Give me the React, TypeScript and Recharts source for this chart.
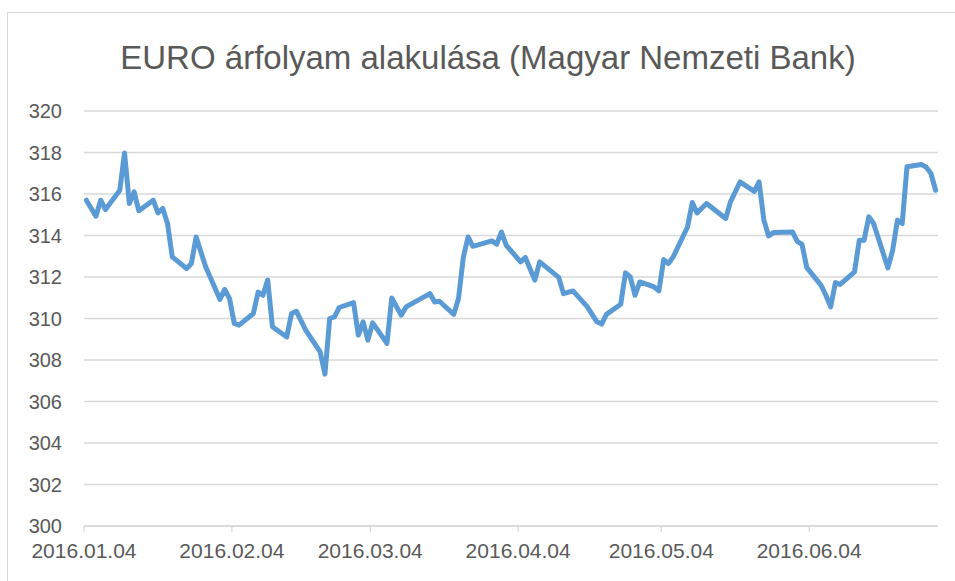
import React from "react";
import { LineChart, Line, XAxis, YAxis, CartesianGrid } from "recharts";

const TITLE = "EURO árfolyam alakulása (Magyar Nemzeti Bank)";

const dates: string[] = [
  "2016.01.04", "2016.01.06", "2016.01.07", "2016.01.08", "2016.01.11", "2016.01.12", "2016.01.13", "2016.01.14", "2016.01.15",
  "2016.01.18", "2016.01.19", "2016.01.20", "2016.01.21", "2016.01.22", "2016.01.25", "2016.01.26", "2016.01.27", "2016.01.29",
  "2016.02.01", "2016.02.02", "2016.02.03", "2016.02.04", "2016.02.05", "2016.02.08", "2016.02.09", "2016.02.10", "2016.02.11",
  "2016.02.12", "2016.02.15", "2016.02.16", "2016.02.17", "2016.02.19", "2016.02.22", "2016.02.23", "2016.02.24", "2016.02.25",
  "2016.02.26", "2016.02.29", "2016.03.01", "2016.03.02", "2016.03.03", "2016.03.04", "2016.03.07", "2016.03.08", "2016.03.10",
  "2016.03.11", "2016.03.16", "2016.03.17", "2016.03.18", "2016.03.21", "2016.03.22", "2016.03.23", "2016.03.24", "2016.03.25",
  "2016.03.29", "2016.03.30", "2016.03.31", "2016.04.01", "2016.04.04", "2016.04.05", "2016.04.07", "2016.04.08", "2016.04.12",
  "2016.04.13", "2016.04.15", "2016.04.18", "2016.04.20", "2016.04.21", "2016.04.22", "2016.04.25", "2016.04.26", "2016.04.27",
  "2016.04.28", "2016.04.29", "2016.05.02", "2016.05.03", "2016.05.04", "2016.05.05", "2016.05.06", "2016.05.09", "2016.05.10",
  "2016.05.11", "2016.05.13", "2016.05.17", "2016.05.18", "2016.05.20", "2016.05.23", "2016.05.24", "2016.05.25", "2016.05.26",
  "2016.05.27", "2016.05.31", "2016.06.01", "2016.06.02", "2016.06.03", "2016.06.06", "2016.06.07", "2016.06.08", "2016.06.09",
  "2016.06.10", "2016.06.13", "2016.06.14", "2016.06.15", "2016.06.16", "2016.06.17", "2016.06.20", "2016.06.21", "2016.06.22",
  "2016.06.23", "2016.06.24", "2016.06.27", "2016.06.28", "2016.06.29", "2016.06.30",
];

const rates: number[] = [
  315.70, 314.93, 315.70, 315.25, 316.18, 317.98, 315.54, 316.10, 315.19,
  315.70, 315.09, 315.30, 314.58, 312.97, 312.41, 312.65, 313.93, 312.49,
  310.92, 311.40, 310.96, 309.76, 309.68, 310.24, 311.28, 311.12, 311.85,
  309.60, 309.11, 310.24, 310.35, 309.43, 308.39, 307.32, 310.00, 310.08,
  310.53, 310.77, 309.20, 309.84, 308.96, 309.79, 308.80, 310.99, 310.16,
  310.56, 311.20, 310.80, 310.83, 310.20, 310.96, 312.94, 313.93, 313.48,
  313.74, 313.58, 314.17, 313.53, 312.73, 312.94, 311.85, 312.73, 311.98,
  311.20, 311.33, 310.56, 309.84, 309.73, 310.20, 310.69, 312.20, 312.00,
  311.12, 311.76, 311.52, 311.33, 312.84, 312.65, 312.97, 314.41, 315.59,
  315.09, 315.54, 314.82, 315.62, 316.58, 316.13, 316.58, 314.74, 313.98,
  314.14, 314.17, 313.72, 313.57, 312.45, 311.60, 311.12, 310.56, 311.73,
  311.64, 312.25, 313.77, 313.77, 314.90, 314.58, 312.44, 313.29, 314.74,
  314.58, 317.31, 317.42, 317.30, 317.00, 316.18,
];

const xTickLabels: string[] = ["2016.01.04", "2016.02.04", "2016.03.04", "2016.04.04", "2016.05.04", "2016.06.04"];
const yTicks: number[] = [300, 302, 304, 306, 308, 310, 312, 314, 316, 318, 320];
const START = "2016.01.04";
const END = "2016.06.30";

const toUtc = (s: string) => {
  const [y, m, d] = s.split(".").map(Number);
  return Date.UTC(y, m - 1, d);
};
const dayIndex = (s: string) => Math.round((toUtc(s) - toUtc(START)) / 86400000);

const data = dates.map((d, i) => ({ x: dayIndex(d) + 0.5, v: rates[i] }));
const xTicks = xTickLabels.map(dayIndex);
const labelByDay: Record<number, string> = {};
xTickLabels.forEach((l) => (labelByDay[dayIndex(l)] = l));

const TEXT = "#595959";
const FONT = "'Liberation Sans', Arial, sans-serif";

export default function App() {
  return (
    <div style={{ position: "absolute", left: 0, top: 0, width: 955, height: 581, background: "#fff", overflow: "hidden" }}>
      <div
        style={{
          position: "absolute",
          left: 7,
          top: 12,
          width: 960,
          height: 600,
          border: "1.5px solid #d9d9d9",
          boxSizing: "border-box",
        }}
      />
      <div
        style={{
          position: "absolute",
          left: 0,
          width: 976,
          top: 38,
          textAlign: "center",
          fontFamily: FONT,
          fontSize: 33,
          color: TEXT,
          lineHeight: "40px",
          whiteSpace: "nowrap",
        }}
      >
        {TITLE}
      </div>
      <div style={{ position: "absolute", left: 0, top: 0 }}>
        <LineChart width={955} height={581} data={data} margin={{ top: 111, right: 17, bottom: 0, left: 0 }}>
          <CartesianGrid horizontal vertical={false} stroke="#d9d9d9" strokeWidth={1.3} />
          <XAxis
            dataKey="x"
            type="number"
            domain={[0, dayIndex(END) + 1]}
            ticks={xTicks}
            tickFormatter={(v: number) => labelByDay[v] ?? ""}
            interval={0}
            height={55}
            axisLine={{ stroke: "#d9d9d9", strokeWidth: 1.3 }}
            tickLine={{ stroke: "#d9d9d9", strokeWidth: 1.3 }}
            tickSize={6}
            tickMargin={11}
            tick={{ fill: TEXT, fontSize: 21, fontFamily: FONT }}
          />
          <YAxis
            type="number"
            domain={[300, 320]}
            ticks={yTicks}
            interval={0}
            width={84}
            axisLine={false}
            tickLine={false}
            tickSize={0}
            tickMargin={22}
            tick={{ fill: TEXT, fontSize: 20, fontFamily: FONT }}
          />
          <Line
            type="linear"
            dataKey="v"
            stroke="#5B9BD5"
            strokeWidth={5}
            strokeLinejoin="round"
            strokeLinecap="round"
            dot={false}
            activeDot={false}
            isAnimationActive={false}
          />
        </LineChart>
      </div>
    </div>
  );
}
